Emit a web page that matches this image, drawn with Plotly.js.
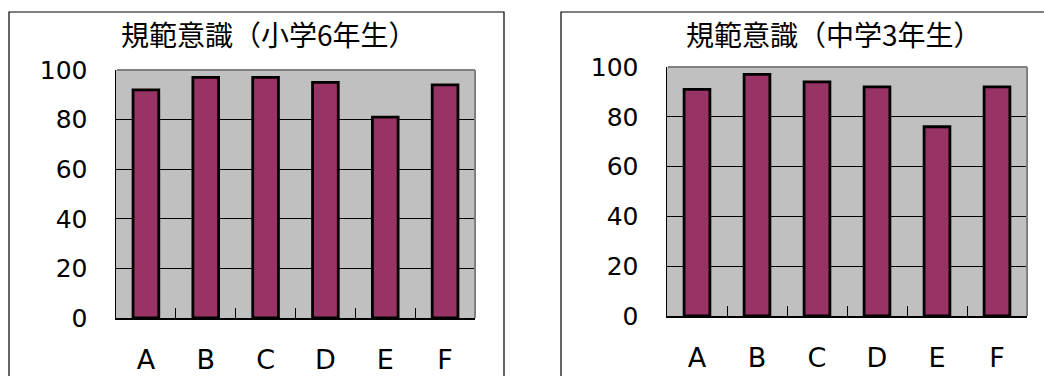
<!DOCTYPE html>
<html>
<head>
<meta charset="utf-8">
<script src="https://cdn.plot.ly/plotly-3.0.1.min.js"></script>
<style>html,body{margin:0;padding:0;background:#fff;}#chart{width:1044px;height:376px;}</style>
</head>
<body>
<div id="chart"></div>
<script>
const categories = ["A", "B", "C", "D", "E", "F"];
const elementary6 = [92, 97, 97, 95, 81, 94];
const juniorHigh3 = [91, 97, 94, 92, 76, 92];
const titleLeft = "規範意識（小学6年生）";
const titleRight = "規範意識（中学3年生）";
const yTicks = [0, 20, 40, 60, 80, 100];

const W = 1044, H = 376;
const px = v => v / W;
const py = v => 1 - v / H;

const barStyle = {
  type: "bar",
  marker: { color: "#993366", line: { color: "#000000", width: 2.8 } },
  width: 0.43,
  hoverinfo: "x+y",
  showlegend: false
};

const traces = [
  Object.assign({}, barStyle, { x: categories, y: elementary6, xaxis: "x", yaxis: "y" }),
  Object.assign({}, barStyle, { x: categories, y: juniorHigh3, xaxis: "x2", yaxis: "y2" })
];

const xFont = { family: "DejaVu Sans, sans-serif", size: 27, color: "#000" };
const yFont = { family: "DejaVu Sans, sans-serif", size: 25, color: "#000" };

function xAxis(domain, anchor) {
  return {
    domain: domain, anchor: anchor, type: "category",
    showline: true, linecolor: "#000", linewidth: 1.5,
    ticks: "inside", tickson: "boundaries", ticklen: 10, tickcolor: "#000", tickwidth: 1,
    showgrid: false, tickfont: xFont, ticklabelstandoff: 17, fixedrange: true
  };
}
function yAxis(domain, anchor) {
  return {
    domain: domain, anchor: anchor, range: [0, 100],
    tickvals: yTicks, ticktext: yTicks.map(String),
    showline: true, linecolor: "#000", linewidth: 1.5,
    ticks: "inside", ticklen: 10, tickcolor: "#000", tickwidth: 1,
    showgrid: true, gridcolor: "#000", gridwidth: 1, zeroline: false,
    tickfont: yFont, ticklabelstandoff: 22, fixedrange: true
  };
}

const layout = {
  width: W, height: H,
  margin: { l: 0, r: 0, t: 0, b: 0 },
  paper_bgcolor: "#ffffff", plot_bgcolor: "#c0c0c0",
  xaxis: xAxis([px(116), px(475)], "y"),
  yaxis: yAxis([py(318), py(70)], "x"),
  xaxis2: xAxis([px(667), px(1027)], "y2"),
  yaxis2: yAxis([py(316), py(67)], "x2"),
  shapes: [
    { type: "rect", xref: "paper", yref: "paper", x0: px(9), x1: px(504), y0: -0.1, y1: py(12),
      line: { color: "#000", width: 1.2 }, fillcolor: "rgba(0,0,0,0)", layer: "above" },
    { type: "rect", xref: "paper", yref: "paper", x0: px(561), x1: 1.1, y0: -0.1, y1: py(12),
      line: { color: "#000", width: 1.2 }, fillcolor: "rgba(0,0,0,0)", layer: "above" },
    { type: "line", xref: "paper", yref: "paper", x0: px(117), x1: px(475), y0: py(70), y1: py(70),
      line: { color: "#808080", width: 2 }, layer: "above" },
    { type: "line", xref: "paper", yref: "paper", x0: px(475), x1: px(475), y0: py(318), y1: py(70),
      line: { color: "#808080", width: 2 }, layer: "above" },
    { type: "line", xref: "paper", yref: "paper", x0: px(668), x1: px(1027), y0: py(67), y1: py(67),
      line: { color: "#808080", width: 2 }, layer: "above" },
    { type: "line", xref: "paper", yref: "paper", x0: px(1027), x1: px(1027), y0: py(316), y1: py(67),
      line: { color: "#808080", width: 2 }, layer: "above" }
  ],
  annotations: [
    { text: titleLeft, xref: "paper", yref: "paper", x: px(269), y: py(34), xanchor: "center", yanchor: "middle",
      showarrow: false, font: { family: "Noto Sans CJK JP, sans-serif", size: 28, color: "#000" } },
    { text: titleRight, xref: "paper", yref: "paper", x: px(834), y: py(34), xanchor: "center", yanchor: "middle",
      showarrow: false, font: { family: "Noto Sans CJK JP, sans-serif", size: 28, color: "#000" } }
  ]
};

Plotly.newPlot("chart", traces, layout, { displayModeBar: false, staticPlot: true });
</script>
</body>
</html>
